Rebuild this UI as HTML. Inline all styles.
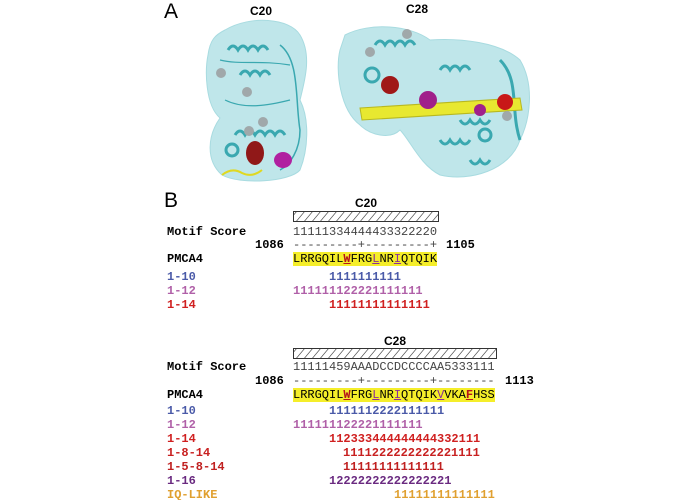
<!DOCTYPE html>
<html><head><style>
html,body{margin:0;padding:0;background:#fff;}
#w{position:relative;width:700px;height:500px;overflow:hidden;font-family:"Liberation Sans",sans-serif;}
.t{position:absolute;white-space:pre;font-family:"Liberation Mono",monospace;font-size:12px;line-height:12px;}
.b{font-weight:bold;}
.lab{position:absolute;font-weight:bold;font-size:12px;}
.big{position:absolute;font-size:21px;}
.hl{background:#f5ee2a;}
.u{text-decoration:underline;color:#b5121b;font-weight:bold;}
.up{text-decoration:underline;color:#8a2d9a;}
</style></head><body><div id="w">
<svg width="700" height="200" style="position:absolute;left:0;top:0">
<path d="M225,30 C250,15 290,18 300,35 C312,55 305,80 300,100 C310,120 308,150 300,170 C290,182 240,185 222,175 C205,160 208,135 220,118 C205,105 205,70 208,55 C210,40 215,35 225,30Z" fill="#bfe6ea" stroke="#a8dbe0"/>
<path d="M345,35 C370,22 410,25 430,40 C460,38 500,42 520,60 C535,85 530,120 520,140 C510,170 470,182 440,175 C420,165 410,140 400,130 C390,140 370,135 360,125 C340,110 335,70 340,50Z" fill="#bfe6ea" stroke="#a8dbe0"/>
<g fill="none" stroke="#3aa8b0" stroke-width="3">
<path d="M228,50 q5,-8 10,0 q5,-8 10,0 q5,-8 10,0 q5,-8 10,0"/>
<path d="M240,75 q5,-8 10,0 q5,-8 10,0 q5,-8 10,0"/>
<path d="M235,135 q5,-8 10,0 q5,-8 10,0 q5,-8 10,0 q5,-8 10,0 q5,-8 10,0"/>
<path d="M220,60 C240,65 260,60 290,65 M225,100 C245,110 270,105 290,100" stroke-width="1.2"/>
<path d="M280,45 C300,60 295,100 300,130 C300,150 290,165 280,170" stroke-width="1.5"/>
<circle cx="232" cy="150" r="6"/>
<path d="M375,45 q5,-8 10,0 q5,-8 10,0 q5,-8 10,0 q5,-8 10,0"/>
<path d="M440,70 q5,-8 10,0 q5,-8 10,0 q5,-8 10,0"/>
<path d="M460,120 q5,8 10,0 q5,8 10,0 q5,8 10,0"/>
<path d="M440,140 q5,8 10,0 q5,8 10,0 q5,8 10,0 M470,160 q5,8 10,0 q5,8 10,0" />
<path d="M500,60 C520,80 510,110 520,140" />
<circle cx="372" cy="75" r="7"/><circle cx="485" cy="135" r="6"/>
</g>
<path d="M360,108 L520,98 L522,110 L362,120Z" fill="#e8e830" stroke="#b8b820"/>
<circle cx="390" cy="85" r="9" fill="#a01818"/><circle cx="428" cy="100" r="9" fill="#a0208a"/><circle cx="505" cy="102" r="8" fill="#c81818"/><circle cx="480" cy="110" r="6" fill="#a0208a"/>
<ellipse cx="255" cy="153" rx="9" ry="12" fill="#901818"/><ellipse cx="283" cy="160" rx="9" ry="8" fill="#b020a0"/>
<path d="M222,175 q10,-8 20,-2 q10,5 20,-3" stroke="#e0d820" stroke-width="2" fill="none"/>
<g fill="#a0a8aa"><circle cx="221" cy="73" r="5"/><circle cx="247" cy="92" r="5"/><circle cx="263" cy="122" r="5"/><circle cx="249" cy="131" r="5"/><circle cx="370" cy="52" r="5"/><circle cx="407" cy="34" r="5"/><circle cx="507" cy="116" r="5"/></g>
</svg>
<div class="big" style="left:164px;top:0px">A</div>
<div class="lab" style="left:250px;top:4px">C20</div>
<div class="lab" style="left:406px;top:2px">C28</div>
<div class="big" style="left:164px;top:189px">B</div>
<div class="lab" style="left:355px;top:196px">C20</div>
<svg width="146" height="12" style="position:absolute;left:293px;top:211px"><defs><pattern id="h2" width="8" height="10" patternUnits="userSpaceOnUse" patternTransform="skewX(-40)"><line x1="4" y1="0" x2="4" y2="10" stroke="#333" stroke-width="0.8"/></pattern></defs><rect x="0.5" y="0.5" width="145" height="10" fill="url(#h2)" stroke="#333"/></svg>
<div class="t b" style="left:167px;top:226px">Motif Score</div>
<div class="t" style="left:293px;top:226px;color:#444">11111334444433322220</div>
<div class="t b" style="left:255px;top:239px">1086</div>
<div class="t" style="left:293px;top:239px;color:#444">---------+---------+</div>
<div class="t b" style="left:446px;top:239px">1105</div>
<div class="t b" style="left:167px;top:253px">PMCA4</div>
<div class="t" style="left:293px;top:253px"><span class="hl">LRRGQIL<span class="u">W</span>FRG<span class="up">L</span>NR<span class="up">I</span>QTQIK</span></div>
<div class="t b" style="left:167px;top:271px;color:#4a5aa8">1-10</div>
<div class="t b" style="left:329px;top:271px;color:#4a5aa8">1111111111</div>
<div class="t b" style="left:167px;top:285px;color:#b060a8">1-12</div>
<div class="t b" style="left:293px;top:285px;color:#b060a8">111111122221111111</div>
<div class="t b" style="left:167px;top:299px;color:#d02020">1-14</div>
<div class="t b" style="left:329px;top:299px;color:#d02020">11111111111111</div>

<div class="lab" style="left:384px;top:334px">C28</div>
<svg width="204" height="12" style="position:absolute;left:293px;top:348px"><defs><pattern id="h3" width="8" height="10" patternUnits="userSpaceOnUse" patternTransform="skewX(-40)"><line x1="4" y1="0" x2="4" y2="10" stroke="#333" stroke-width="0.8"/></pattern></defs><rect x="0.5" y="0.5" width="203" height="10" fill="url(#h3)" stroke="#333"/></svg>
<div class="t b" style="left:167px;top:361px">Motif Score</div>
<div class="t" style="left:293px;top:361px;color:#444">11111459AAADCCDCCCCAA5333111</div>
<div class="t b" style="left:255px;top:375px">1086</div>
<div class="t" style="left:293px;top:375px;color:#444">---------+---------+--------</div>
<div class="t b" style="left:505px;top:375px">1113</div>
<div class="t b" style="left:167px;top:389px">PMCA4</div>
<div class="t" style="left:293px;top:389px"><span class="hl">LRRGQIL<span class="u">W</span>FRG<span class="up">L</span>NR<span class="up">I</span>QTQIK<span class="up">V</span>VKA<span class="u">F</span>HSS</span></div>
<div class="t b" style="left:167px;top:405px;color:#4a5aa8">1-10</div>
<div class="t b" style="left:329px;top:405px;color:#4a5aa8">1111112222111111</div>
<div class="t b" style="left:167px;top:419px;color:#b060a8">1-12</div>
<div class="t b" style="left:293px;top:419px;color:#b060a8">111111122221111111</div>
<div class="t b" style="left:167px;top:433px;color:#d02020">1-14</div>
<div class="t b" style="left:329px;top:433px;color:#d02020">112333444444444332111</div>
<div class="t b" style="left:167px;top:447px;color:#c82020">1-8-14</div>
<div class="t b" style="left:343px;top:447px;color:#c82020">1111222222222221111</div>
<div class="t b" style="left:167px;top:461px;color:#c02020">1-5-8-14</div>
<div class="t b" style="left:343px;top:461px;color:#c02020">11111111111111</div>
<div class="t b" style="left:167px;top:475px;color:#6a2a80">1-16</div>
<div class="t b" style="left:329px;top:475px;color:#6a2a80">12222222222222221</div>
<div class="t b" style="left:167px;top:489px;color:#e0a030">IQ-LIKE</div>
<div class="t b" style="left:394px;top:489px;color:#e0a030">11111111111111</div>
</div></body></html>
